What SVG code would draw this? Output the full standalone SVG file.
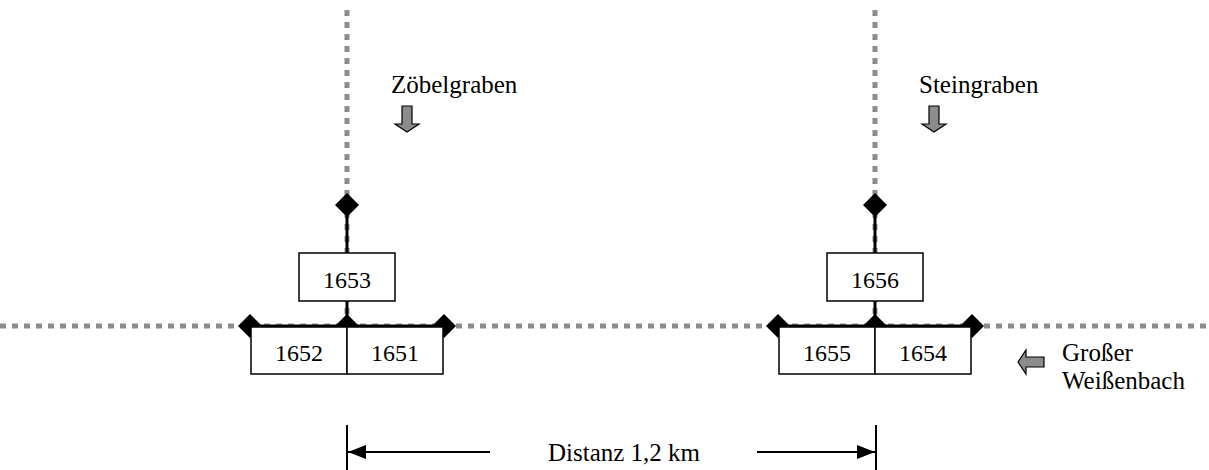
<svg xmlns="http://www.w3.org/2000/svg" width="1209" height="470" viewBox="0 0 1209 470">
  <style>
    .stream { stroke: #8c8c8c; stroke-width: 5; stroke-dasharray: 6 6; fill: none; }
    .link { stroke: #000; stroke-width: 3; fill: none; }
    .box { fill: #fff; stroke: #000; stroke-width: 1.5; }
    .lbl { font-family: "Liberation Serif", "Times New Roman", serif; font-size: 25px; fill: #000; }
    .num { font-family: "Liberation Serif", "Times New Roman", serif; font-size: 24px; fill: #000; text-anchor: middle; }
    .mid { text-anchor: middle; }
    .flow { fill: #8c8c8c; stroke: #000; stroke-width: 1.2; stroke-linejoin: miter; }
    .dim { stroke: #000; stroke-width: 2; fill: none; }
    .knot { fill: #000; }
  </style>
  <defs>
    <marker id="dimArrow" viewBox="0 0 18 14" refX="18" refY="7" markerWidth="18" markerHeight="14" markerUnits="userSpaceOnUse" orient="auto">
      <path d="M0,0 L18,7 L0,14 Z" fill="#000"/>
    </marker>
    <path id="diamond" d="M0,-12 L12,0 L0,12 L-12,0 Z"/>
  </defs>

  <rect width="1209" height="470" fill="#fff"/>

  <!-- watercourses (dotted) and connections -->
  <g id="connectors">
    <line class="stream" x1="0" y1="326" x2="1209" y2="326"/>
    <line class="stream" x1="347" y1="10" x2="347" y2="200"/>
    <line class="stream" x1="875" y1="10" x2="875" y2="200"/>
    <line class="stream" x1="347" y1="200" x2="347" y2="326"/>
    <line class="stream" x1="875" y1="200" x2="875" y2="326"/>
    <!-- left site -->
    <line class="link" x1="347" y1="205" x2="347" y2="326"/>
    <line class="link" x1="250" y1="326" x2="444" y2="326"/>
    <!-- right site -->
    <line class="link" x1="875" y1="205" x2="875" y2="326"/>
    <line class="link" x1="778" y1="326" x2="972" y2="326"/>
    <!-- junction markers -->
    <use href="#diamond" class="knot" x="347" y="205"/>
    <use href="#diamond" class="knot" x="250" y="326"/>
    <use href="#diamond" class="knot" x="347" y="326"/>
    <use href="#diamond" class="knot" x="444" y="326"/>
    <use href="#diamond" class="knot" x="875" y="205"/>
    <use href="#diamond" class="knot" x="778" y="326"/>
    <use href="#diamond" class="knot" x="875" y="326"/>
    <use href="#diamond" class="knot" x="972" y="326"/>
  </g>

  <!-- stations, left site -->
  <g id="n1653">
    <rect class="box" x="299" y="253" width="96" height="48"/>
    <text class="num" x="347" y="288">1653</text>
  </g>
  <g id="n1652">
    <rect class="box" x="251" y="327" width="96" height="47"/>
    <text class="num" x="299" y="361">1652</text>
  </g>
  <g id="n1651">
    <rect class="box" x="347" y="327" width="96" height="47"/>
    <text class="num" x="395" y="361">1651</text>
  </g>

  <!-- stations, right site -->
  <g id="n1656">
    <rect class="box" x="827" y="253" width="96" height="48"/>
    <text class="num" x="875" y="288">1656</text>
  </g>
  <g id="n1655">
    <rect class="box" x="779" y="327" width="96" height="47"/>
    <text class="num" x="827" y="361">1655</text>
  </g>
  <g id="n1654">
    <rect class="box" x="875" y="327" width="96" height="47"/>
    <text class="num" x="923" y="361">1654</text>
  </g>

  <!-- stream names with flow direction -->
  <g id="zoebelgraben">
    <text class="lbl" x="391" y="93">Zöbelgraben</text>
    <path class="flow" d="M402,106 H412 V124 H419 L407,132 L395,124 H402 Z"/>
  </g>
  <g id="steingraben">
    <text class="lbl" x="919" y="93">Steingraben</text>
    <path class="flow" d="M929,106 H939 V124 H946 L934,132 L922,124 H929 Z"/>
  </g>
  <g id="weissenbach">
    <path class="flow" d="M1044,357 V367 H1026 V374 L1018,362 L1026,350 V357 Z"/>
    <text class="lbl" x="1062" y="361">Großer</text>
    <text class="lbl" x="1062" y="389">Weißenbach</text>
  </g>

  <!-- distance between the two sites -->
  <g id="distance">
    <line class="dim" x1="347" y1="425" x2="347" y2="470"/>
    <line class="dim" x1="876" y1="425" x2="876" y2="470"/>
    <line class="dim" x1="490" y1="452" x2="348" y2="452" marker-end="url(#dimArrow)"/>
    <line class="dim" x1="757" y1="452" x2="875" y2="452" marker-end="url(#dimArrow)"/>
    <text class="lbl mid" x="624" y="461">Distanz 1,2 km</text>
  </g>
</svg>
